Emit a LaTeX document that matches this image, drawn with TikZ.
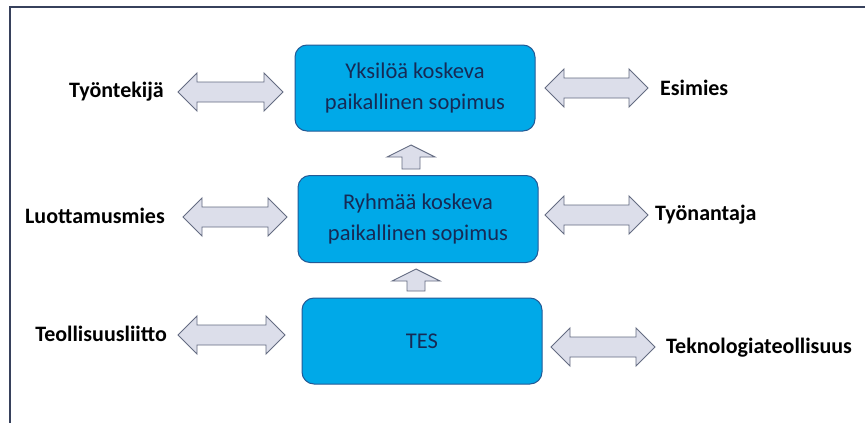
\documentclass[tikz,border=0pt]{standalone}
\usepackage{fontspec}
\setmainfont{Carlito}
\usetikzlibrary{calc}
\definecolor{boxfill}{RGB}{0,169,232}
\definecolor{boxedge}{RGB}{35,90,150}
\definecolor{boxtext}{RGB}{22,42,85}
\definecolor{arrfill}{RGB}{220,222,234}
\definecolor{arredge}{RGB}{100,108,130}
\definecolor{frame}{RGB}{55,65,92}
\tikzset{
  blockbox/.style={draw=boxedge, line width=1pt, fill=boxfill, rounded corners=12pt, text=boxtext,
    font=\fontsize{22.5}{31}\selectfont, align=center, inner sep=0pt},
  sidelabel/.style={font=\fontsize{22}{24}\selectfont\bfseries, text=black, inner sep=0pt},
  blockarrow/.style={draw=arredge, fill=arrfill, line width=0.9pt, line join=miter}
}
% horizontal double block arrow between coordinates #1 (left tip) and #2 (right tip)
\newcommand{\dblblockarrow}[2]{%
  \draw[blockarrow] (#1) -- ($(#1)+(19,19)$) -- ($(#1)+(19,10)$) -- ($(#2)+(-19,10)$) -- ($(#2)+(-19,19)$) -- (#2)
   -- ($(#2)+(-19,-19)$) -- ($(#2)+(-19,-10)$) -- ($(#1)+(19,-10)$) -- ($(#1)+(19,-19)$) -- cycle;}
% upward block arrow: #1 tip, #2 tail centre
\newcommand{\upblockarrow}[2]{%
  \draw[blockarrow] (#1) -- ($(#1)+(24,12)$) -- ($(#1)+(9,12)$) -- ($(#2)+(9,0)$) -- ($(#2)+(-9,0)$)
   -- ($(#1)+(-9,12)$) -- ($(#1)+(-24,12)$) -- cycle;}
\begin{document}
\begin{tikzpicture}[x=1pt,y=-1pt]
\useasboundingbox (0,0) rectangle (865,423);
\fill[white] (0,0) rectangle (865,423);
% frame (top and left edges)
\draw[frame, line width=2.5pt] (865,7) -- (10,7) -- (10,423);

% central boxes
\node[blockbox, minimum width=240pt, minimum height=86pt] (yks) at (415,88) {Yksilöä koskeva\\paikallinen sopimus};
\node[blockbox, minimum width=240pt, minimum height=87pt] (ryh) at (418,219) {Ryhmää koskeva\\paikallinen sopimus};
\node[blockbox, minimum width=240pt, minimum height=86pt] (tes) at (422,341) {TES};

% side labels
\node[sidelabel, anchor=east] (tyontekija) at (164,92) {Työntekijä};
\node[sidelabel, anchor=west] (esimies) at (660,88) {Esimies};
\node[sidelabel, anchor=east] (luottamus) at (165,216) {Luottamusmies};
\node[sidelabel, anchor=west] (tyonantaja) at (655,215) {Työnantaja};
\node[sidelabel, anchor=east] (teollisuus) at (167,334) {Teollisuusliitto};
\node[sidelabel, anchor=west] (tekno) at (666,348) {Teknologiateollisuus};

% arrow end coordinates
\coordinate (a1l) at (178,92);  \coordinate (a1r) at (283,92);
\coordinate (b1l) at (545,88);  \coordinate (b1r) at (648,88);
\coordinate (a2l) at (183,217); \coordinate (a2r) at (287,217);
\coordinate (b2l) at (545,215); \coordinate (b2r) at (648,215);
\coordinate (a3l) at (178,335); \coordinate (a3r) at (285,335);
\coordinate (b3l) at (551,347); \coordinate (b3r) at (655,347);

\dblblockarrow{a1l}{a1r}
\dblblockarrow{b1l}{b1r}
\dblblockarrow{a2l}{a2r}
\dblblockarrow{b2l}{b2r}
\dblblockarrow{a3l}{a3r}
\dblblockarrow{b3l}{b3r}

% upward arrows between boxes
\coordinate (u1t) at (411,145); \coordinate (u1b) at (411,169);
\coordinate (u2t) at (416,269); \coordinate (u2b) at (416,291);
\upblockarrow{u1t}{u1b}
\upblockarrow{u2t}{u2b}
\end{tikzpicture}
\end{document}
